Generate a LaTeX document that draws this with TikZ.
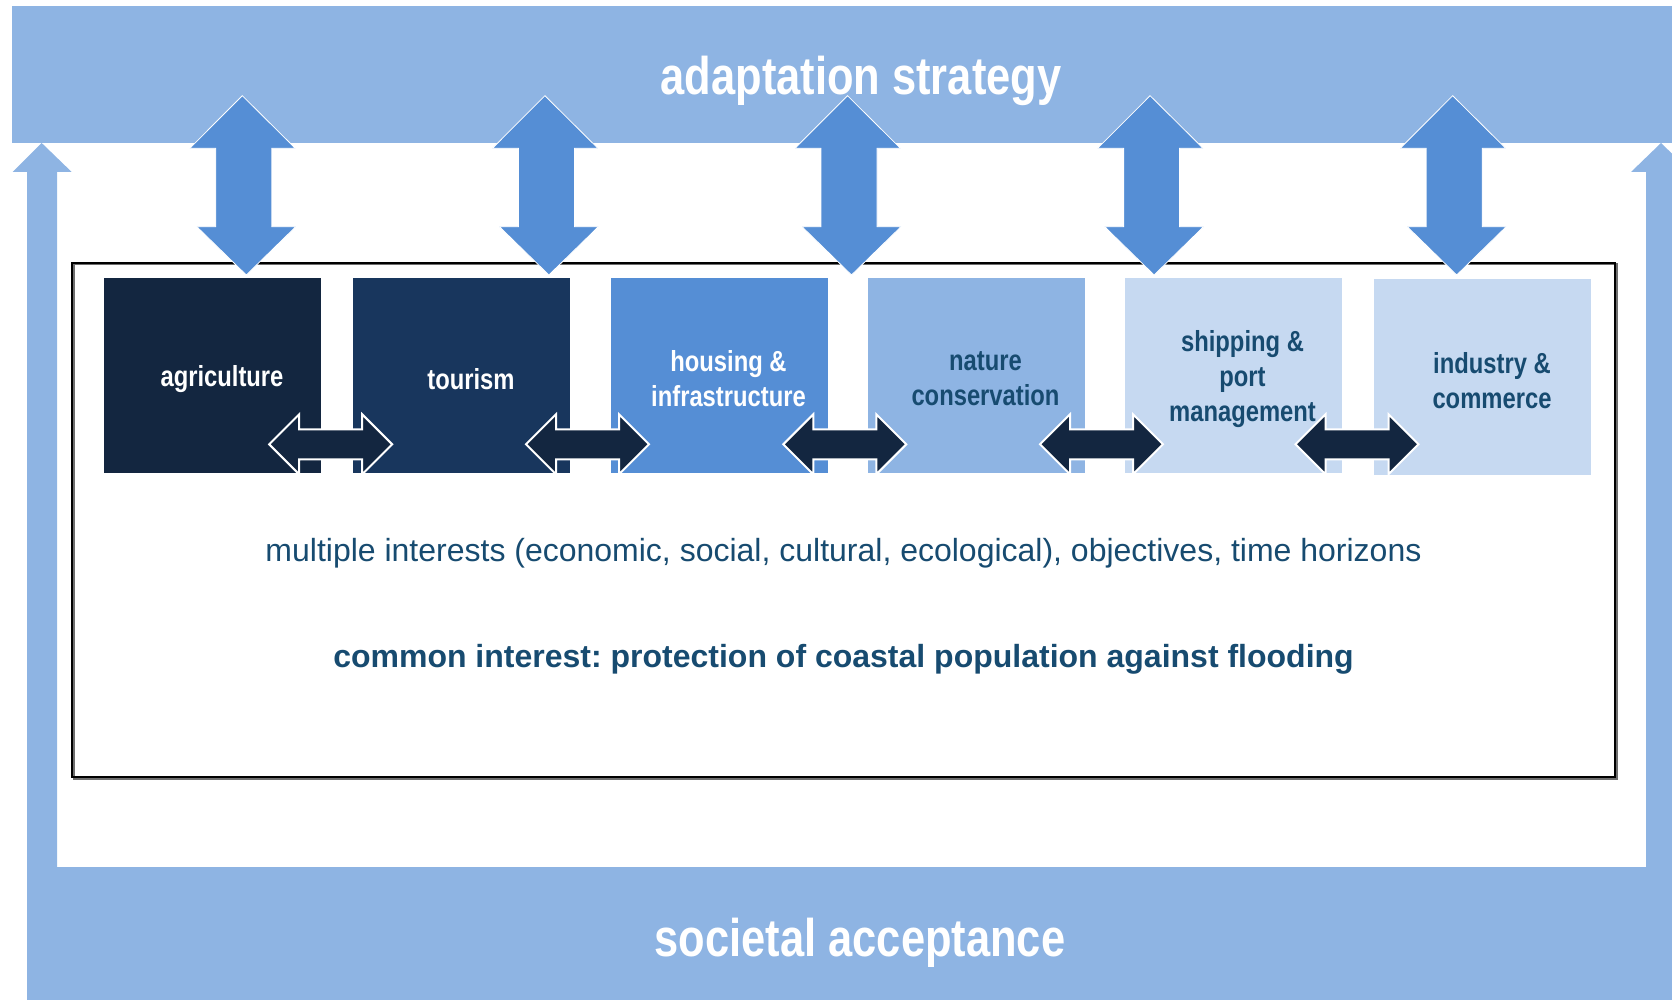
\documentclass[tikz,border=0pt]{standalone}
\usepackage{fontspec}
\setmainfont{Liberation Sans}
\newfontfamily\narrowfont[FakeStretch=0.82]{Liberation Sans}
\frenchspacing
\definecolor{bandblue}{RGB}{142,180,227}
\definecolor{midblue}{RGB}{85,142,213}
\definecolor{navyA}{RGB}{19,38,64}
\definecolor{navyB}{RGB}{24,54,93}
\definecolor{paleblue}{RGB}{198,217,241}
\definecolor{textblue}{RGB}{23,75,112}
\definecolor{shadowgray}{RGB}{110,110,110}
\tikzset{
  band/.style={fill=bandblue},
  titletext/.style={text=white, inner sep=0pt, font=\narrowfont\bfseries\fontsize{26.5}{30}\selectfont},
  sector/.style={minimum width=108.5pt, minimum height=97.5pt, inner sep=0pt},
  sectorlabel/.style={inner sep=0pt, align=center,
    font=\narrowfont\bfseries\fontsize{14.5}{17.5}\selectfont},
  bodytext/.style={text=textblue, inner sep=0pt, font=\frenchspacing\fontsize{16}{19}\selectfont},
  bodybold/.style={text=textblue, inner sep=0pt, font=\frenchspacing\bfseries\fontsize{16}{19}\selectfont},
  smallarrow/.style={fill=navyA, draw=white, line width=1pt, line join=miter},
  bigarrow/.style={fill=midblue, draw=white, line width=0.4pt, line join=miter},
  hdbl/.pic={\path[smallarrow] (-61.5,0) -- (-31.5,-30) -- (-31.5,-15) -- (31.5,-15) -- (31.5,-30)
     -- (61.5,0) -- (31.5,30) -- (31.5,15) -- (-31.5,15) -- (-31.5,30) -- cycle;},
  vdbl/.pic={\path[bigarrow] (-1.5,-89.8) -- (51.5,-37.2) -- (28,-37.2) -- (28,41.2) -- (52,41.2)
     -- (2.5,89.5) -- (-47,41.2) -- (-28,41.2) -- (-28,-37.2) -- (-54,-37.2) -- cycle;}
}
\begin{document}
\begin{tikzpicture}[x=0.5pt,y=-0.5pt]
\useasboundingbox (0,0) rectangle (1672,1000);
\clip (0,0) rectangle (1672,1000);
% top band
\fill[band] (12,6) rectangle (1672,143);
% L-shaped acceptance frame with up arrows
\fill[band] (27,1000) -- (27,172) -- (12.7,172) -- (41.7,143) -- (71.7,172) -- (57,172)
  -- (57,867) -- (1646,867) -- (1646,172) -- (1631,172) -- (1661,143) -- (1691,172)
  -- (1676,172) -- (1676,1000) -- cycle;
\node[titletext, anchor=base] (adapt) at (861,95) {adaptation strategy};
\node[titletext, anchor=base] (soc) at (860,956) {societal acceptance};
% inner frame
\draw[shadowgray, line width=1pt] (73.5,264.5) rectangle (1616.5,778.5);
\draw[black, line width=1pt] (72,263) rectangle (1615,777);
% sectors
\node[sector, fill=navyA] (agri) at (212.5,375.5) {};
\node[sector, fill=navyB] (tour) at (461.5,375.5) {};
\node[sector, fill=midblue] (hous) at (719,375.5) {};
\node[sector, fill=bandblue] (natu) at (976,375.5) {};
\node[sector, fill=paleblue] (ship) at (1233,375.5) {};
\node[sector, fill=paleblue] (indu) at (1482.5,377) {};
\node[sectorlabel, text=white] (agriT) at ([shift={(9.5,3.5)}]agri.center) {agriculture};
\node[sectorlabel, text=white] (tourT) at ([shift={(9.5,3.5)}]tour.center) {tourism};
\node[sectorlabel, text=white] (housT) at ([shift={(9.5,3.5)}]hous.center) {housing \&\\infrastructure};
\node[sectorlabel, text=textblue] (natuT) at ([shift={(9.5,3.5)}]natu.center) {nature\\conservation};
\node[sectorlabel, text=textblue] (shipT) at ([shift={(9.5,3.5)}]ship.center) {shipping \&\\port\\management};
\node[sectorlabel, text=textblue] (induT) at ([shift={(9.5,3.5)}]indu.center) {industry \&\\commerce};
% arrows between sectors
\foreach \cx in {330.7,587.5,844.8,1101.5,1357} {\pic at (\cx,444.3) {hdbl};}
% arrows to adaptation strategy
\foreach \cx in {243.8,546.4,849,1151.6,1454.2} {\pic at (\cx,185.5) {vdbl};}
% texts
\node[bodytext] (multi) at (843.5,553) {multiple interests (economic, social, cultural, ecological), objectives, time horizons};
\node[bodybold] (common) at (843.5,659) {common interest: protection of coastal population against flooding};
\end{tikzpicture}
\end{document}
